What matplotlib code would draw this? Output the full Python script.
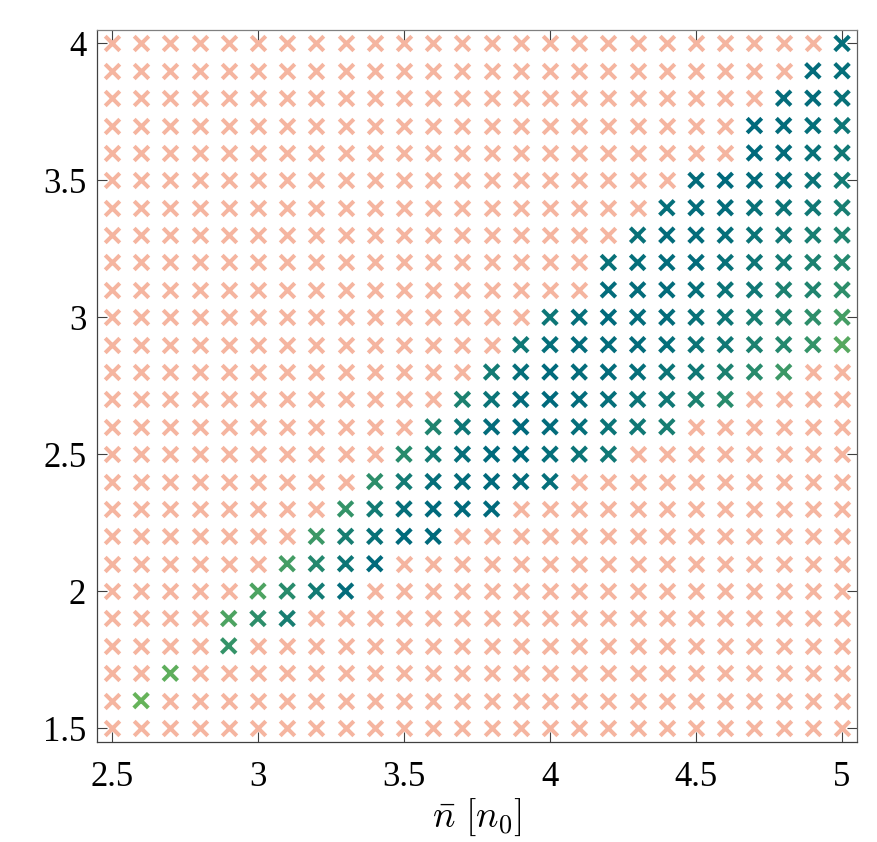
import numpy as np
import matplotlib
matplotlib.use("Agg")
import matplotlib.pyplot as plt
from matplotlib.colors import LinearSegmentedColormap

plt.rcParams['mathtext.fontset'] = 'cm'
plt.rcParams['font.family'] = ['Liberation Serif', 'DejaVu Serif']

# grid of sampled points
n_bar = np.round(np.arange(2.5, 5.0001, 0.1), 1)
y_vals = np.round(np.arange(1.5, 4.0001, 0.1), 1)

# highlighted points: row value -> (first n_bar, shade of each point going right)
# shade 1 = dark teal, 0 = light green
rows_y = [4.0, 3.9, 3.8, 3.7, 3.6, 3.5, 3.4, 3.3, 3.2, 3.1, 3.0, 2.9, 2.8,
          2.7, 2.6, 2.5, 2.4, 2.3, 2.2, 2.1, 2.0, 1.9, 1.8, 1.7, 1.6]
rows_start = [5.0, 4.9, 4.8, 4.7, 4.7, 4.5, 4.4, 4.3, 4.2, 4.2, 4.0, 3.9, 3.8,
              3.7, 3.6, 3.5, 3.4, 3.3, 3.2, 3.1, 3.0, 2.9, 2.9, 2.7, 2.6]
rows_shade = [
    [0.9],
    [0.95, 0.9],
    [0.95, 0.95, 0.85],
    [1.0, 0.95, 0.9, 0.75],
    [1.0, 0.95, 0.85, 0.7],
    [0.95, 1.0, 0.95, 0.9, 0.8, 0.65],
    [0.9, 0.95, 0.95, 0.85, 0.8, 0.7, 0.6],
    [0.85, 0.95, 0.95, 0.9, 0.8, 0.7, 0.6, 0.5],
    [0.85, 0.9, 0.95, 0.95, 0.85, 0.75, 0.65, 0.55, 0.45],
    [0.95, 0.95, 0.95, 0.9, 0.8, 0.7, 0.55, 0.5, 0.35],
    [0.75, 0.9, 1.0, 0.95, 0.95, 0.85, 0.75, 0.6, 0.5, 0.35, 0.2],
    [0.7, 0.9, 0.95, 0.95, 0.95, 0.9, 0.8, 0.7, 0.55, 0.45, 0.3, 0.1],
    [0.65, 0.9, 1.0, 0.95, 0.95, 0.9, 0.8, 0.7, 0.55, 0.4, 0.25],
    [0.55, 0.8, 0.95, 1.0, 0.95, 0.9, 0.8, 0.7, 0.55, 0.4],
    [0.5, 0.75, 0.95, 1.0, 0.95, 0.9, 0.8, 0.7, 0.6],
    [0.4, 0.65, 0.9, 1.0, 1.0, 0.9, 0.8, 0.7],
    [0.35, 0.65, 0.9, 0.95, 1.0, 0.95, 0.9],
    [0.3, 0.65, 0.9, 1.0, 1.0, 1.0],
    [0.25, 0.6, 0.85, 1.0, 1.0],
    [0.2, 0.45, 0.75, 1.0],
    [0.15, 0.4, 0.65, 0.95],
    [0.15, 0.35, 0.6],
    [0.3],
    [0.05],
    [0.0],
]

hx, hy, hc = [], [], []
for yv, x0, shades in zip(rows_y, rows_start, rows_shade):
    for k, s in enumerate(shades):
        hx.append(round(x0 + 0.1 * k, 1))
        hy.append(yv)
        hc.append(s)
hx, hy, hc = np.array(hx), np.array(hy), np.array(hc)

X, Y = np.meshgrid(n_bar, y_vals)
X, Y = X.ravel(), Y.ravel()
hl = set(zip(hx, hy))
mask = np.array([(round(a, 1), round(b, 1)) not in hl for a, b in zip(X, Y)])

cmap = LinearSegmentedColormap.from_list('tg', ['#66b35a', '#2e8f6a', '#127a74', '#006a7c'])

fig = plt.figure(figsize=(8.78, 8.42), dpi=100)
ax = fig.add_axes([0.1108, 0.1191, 0.8649, 0.8456])

ax.scatter(X[mask], Y[mask], marker='x', s=110, linewidths=2.9, color='#f5b5a0', zorder=2)
ax.scatter(hx, hy, marker='x', s=110, linewidths=2.9, c=hc, cmap=cmap, vmin=0, vmax=1, zorder=3)

ax.set_xlim(2.45, 5.05)
ax.set_ylim(1.45, 4.05)
ax.set_xticks([2.5, 3, 3.5, 4, 4.5, 5])
ax.set_yticks([1.5, 2, 2.5, 3, 3.5, 4])
ax.set_xticklabels(['2.5', '3', '3.5', '4', '4.5', '5'])
ax.set_yticklabels(['1.5', '2', '2.5', '3', '3.5', '4'])
ax.tick_params(direction='in', top=True, right=True, length=7, width=0.8,
               color='#404040', labelsize=25, pad=8)
ax.tick_params(axis='x', pad=14)
for sp in ax.spines.values():
    sp.set_color('#404040')
    sp.set_linewidth(0.9)
ax.spines['top'].set_color('#808080')
ax.spines['right'].set_color('#606060')

ax.set_xlabel(r'$\bar{n}\ [n_0]$', fontsize=27, labelpad=2)

fig.savefig('out.png', dpi=100)
